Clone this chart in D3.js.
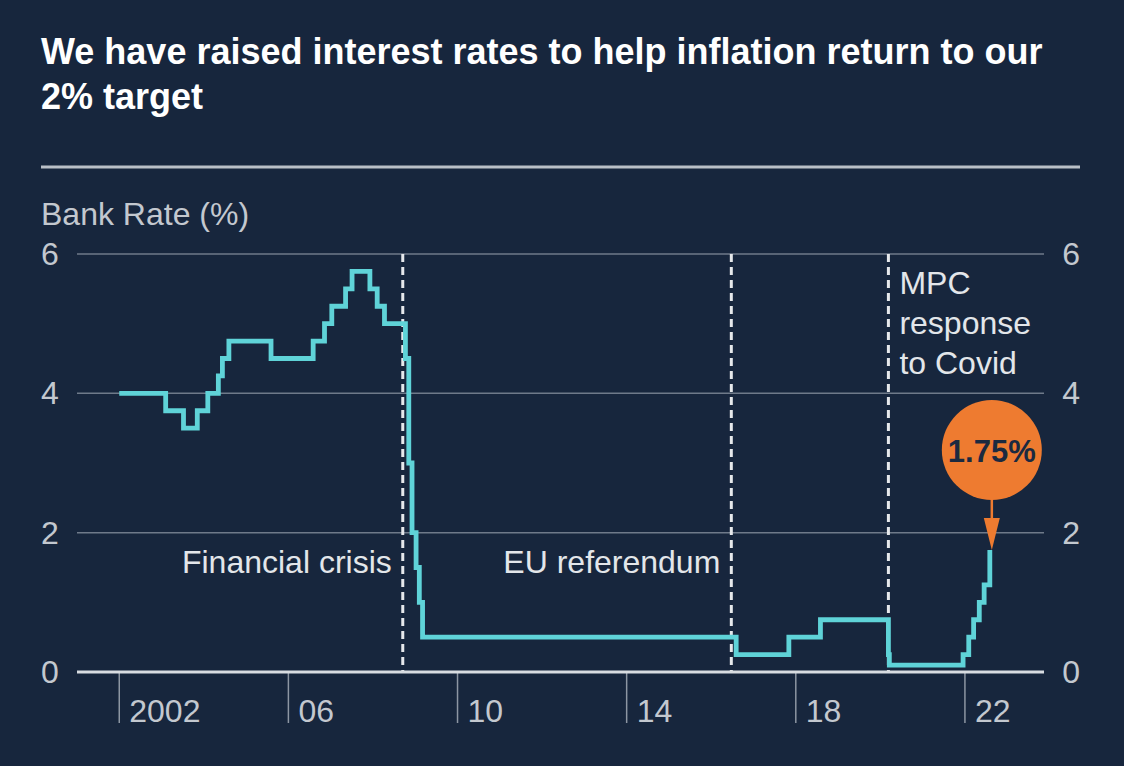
<!DOCTYPE html>
<html lang="en">
<head>
<meta charset="utf-8">
<title>Bank Rate</title>
<script src="https://cdn.jsdelivr.net/npm/d3@7"></script>
<style>
  html, body { margin: 0; padding: 0; background: #17263d; }
  svg { display: block; }
  text { font-family: "Liberation Sans", Arial, sans-serif; }
</style>
</head>
<body>
<script>
// Bank Rate change dates and levels (step series)
var rateDates = ["2002-01-01","2003-02-06","2003-07-10","2003-11-06","2004-02-05","2004-05-06",
  "2004-06-10","2004-08-05","2005-08-04","2006-08-03","2006-11-09","2007-01-11","2007-05-10",
  "2007-07-05","2007-12-06","2008-02-07","2008-04-10","2008-10-08","2008-11-06","2008-12-04",
  "2009-01-08","2009-02-05","2009-03-05","2016-08-04","2017-11-02","2018-08-02","2020-03-11",
  "2020-03-19","2021-12-16","2022-02-03","2022-03-17","2022-05-05","2022-06-16","2022-08-04"];
var rateValues = [4.0,3.75,3.5,3.75,4.0,4.25,4.5,4.75,4.5,4.75,5.0,5.25,5.5,5.75,5.5,5.25,5.0,4.5,3.0,2.0,
  1.5,1.0,0.5,0.25,0.5,0.75,0.25,0.1,0.25,0.5,0.75,1.0,1.25,1.75];

var tickYears = [2002, 2006, 2010, 2014, 2018, 2022];
var tickLabels = ["2002", "06", "10", "14", "18", "22"];
var yTicks = [0, 2, 4, 6];

var eventDates = ["2008-09-15", "2016-06-23", "2020-03-11"];
var eventLabels = [["Financial crisis"], ["EU referendum"], ["MPC", "response", "to Covid"]];
var latestLabel = "1.75%";

var W = 1124, H = 766;
var parse = d3.timeParse("%Y-%m-%d");
var data = rateDates.map(function(d, i){ return {date: parse(d), value: rateValues[i]}; });

var x = d3.scaleTime()
  .domain([new Date(2001, 0, 1), new Date(2023, 10, 15)])
  .range([77, 1044]);
var y = d3.scaleLinear().domain([0, 6]).range([672, 254]);

var svg = d3.select("body").append("svg").attr("width", W).attr("height", H);
svg.append("rect").attr("width", W).attr("height", H).attr("fill", "#17263d");

// title
svg.append("text").attr("x", 41).attr("y", 64).attr("fill", "#ffffff")
  .attr("font-size", 36).attr("font-weight", "bold")
  .text("We have raised interest rates to help inflation return to our");
svg.append("text").attr("x", 41).attr("y", 109).attr("fill", "#ffffff")
  .attr("font-size", 36).attr("font-weight", "bold")
  .text("2% target");

svg.append("line").attr("x1", 41).attr("x2", 1080).attr("y1", 167).attr("y2", 167)
  .attr("stroke", "#b9bfc7").attr("stroke-width", 3);

svg.append("text").attr("x", 41).attr("y", 225).attr("fill", "#c3c8cf")
  .attr("font-size", 32).text("Bank Rate (%)");

// gridlines
svg.selectAll(".grid").data(yTicks.filter(function(d){ return d > 0; })).enter()
  .append("line").attr("class", "grid")
  .attr("x1", 77).attr("x2", 1044)
  .attr("y1", function(d){ return y(d); }).attr("y2", function(d){ return y(d); })
  .attr("stroke", "#6f7a8a").attr("stroke-width", 1.5);

// y labels both sides
svg.selectAll(".yl").data(yTicks).enter().append("text").attr("class", "yl")
  .attr("x", 41).attr("y", function(d){ return y(d) + 11; })
  .attr("fill", "#c3c8cf").attr("font-size", 32).text(function(d){ return d; });
svg.selectAll(".yr").data(yTicks).enter().append("text").attr("class", "yr")
  .attr("x", 1080).attr("y", function(d){ return y(d) + 11; }).attr("text-anchor", "end")
  .attr("fill", "#c3c8cf").attr("font-size", 32).text(function(d){ return d; });

// x ticks
var xt = svg.selectAll(".xt").data(tickYears).enter().append("g").attr("class", "xt")
  .attr("transform", function(d){ return "translate(" + x(new Date(d, 0, 1)) + ",0)"; });
xt.append("line").attr("y1", 672).attr("y2", 723).attr("stroke", "#8d96a3").attr("stroke-width", 1.5);
xt.append("text").attr("x", 10).attr("y", 722).attr("fill", "#c3c8cf").attr("font-size", 32)
  .text(function(d, i){ return tickLabels[i]; });

// event lines
eventDates.forEach(function(d, i){
  var ex = x(parse(d));
  svg.append("line").attr("x1", ex).attr("x2", ex).attr("y1", y(6)).attr("y2", y(0))
    .attr("stroke", "#e6e8eb").attr("stroke-width", 3).attr("stroke-dasharray", "8,5");
  var lines = eventLabels[i];
  if (lines.length === 1) {
    svg.append("text").attr("x", ex - 11).attr("y", 573).attr("text-anchor", "end")
      .attr("fill", "#e3e6ea").attr("font-size", 32).text(lines[0]);
  } else {
    lines.forEach(function(t, j){
      svg.append("text").attr("x", ex + 11).attr("y", 294 + j * 40)
        .attr("fill", "#e3e6ea").attr("font-size", 32).text(t);
    });
  }
});

// zero axis
svg.append("line").attr("x1", 77).attr("x2", 1044).attr("y1", y(0)).attr("y2", y(0))
  .attr("stroke", "#d8dce1").attr("stroke-width", 3);

// rate line
var line = d3.line().curve(d3.curveStepAfter)
  .x(function(d){ return x(d.date); }).y(function(d){ return y(d.value); });
svg.append("path").datum(data).attr("d", line).attr("fill", "none")
  .attr("stroke", "#5fd3d8").attr("stroke-width", 4.8).attr("stroke-linejoin", "miter");

// latest value bubble
var last = data[data.length - 1];
var lx = x(last.date) + 2, ly = y(last.value);
var cy = 450, r = 50;
svg.append("line").attr("x1", lx).attr("x2", lx).attr("y1", cy + r - 2).attr("y2", ly - 28)
  .attr("stroke", "#ee7b30").attr("stroke-width", 2.5);
svg.append("path")
  .attr("d", "M" + (lx - 8) + "," + (ly - 32) + "L" + (lx + 8) + "," + (ly - 32) + "L" + lx + "," + ly + "Z")
  .attr("fill", "#ee7b30");
svg.append("circle").attr("cx", lx).attr("cy", cy).attr("r", r).attr("fill", "#ee7b30");
svg.append("text").attr("x", lx).attr("y", cy + 12).attr("text-anchor", "middle")
  .attr("fill", "#1b2a40").attr("font-size", 31).attr("font-weight", "bold").text(latestLabel);
</script>
</body>
</html>
